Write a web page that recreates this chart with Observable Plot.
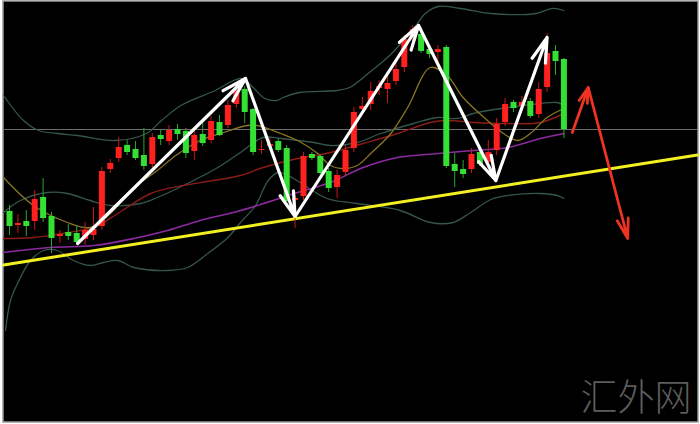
<!DOCTYPE html>
<html>
<head>
<meta charset="utf-8">
<script src="https://cdn.jsdelivr.net/npm/d3@7"></script>
<script src="https://cdn.jsdelivr.net/npm/@observablehq/plot@0.6"></script>
<style>
  html, body { margin: 0; padding: 0; background: #ffffff; }
  #chart svg { display: block; }
</style>
</head>
<body>
<div id="chart"></div>
<script>
// ---- Candles (price units) ----
const opens  = [212,198,202,202,226,207,187,191,190,184,188,197,254,265,278,274,268,259,288,282,294,292,272,289,283,301,298,319,334,314,273,277,282,275,223,227,269,267,252,236,251,275,314,319,335,334,342,356,386,389,374,371,376,259,254,254,271,261,273,301,321,317,322,309,336,372,364];
const closes = [199,202,199,226,207,187,191,189,183,195,196,254,262,278,273,267,259,288,286,295,291,272,290,282,304,290,320,335,313,273,276,281,275,224,227,269,267,252,237,250,275,313,319,334,339,342,356,386,396,374,371,376,259,254,251,271,261,273,301,321,317,323,309,336,372,364,296];
const highs  = [219,210,214,234,246,212,194,200,198,202,217,257,265,287,284,283,296,291,294,299,300,296,296,301,308,309,324,339,338,316,284,286,286,279,229,272,272,269,256,254,279,317,327,342,344,349,362,389,399,397,378,379,379,271,264,276,274,284,306,326,324,328,326,342,391,379,366];
const lows   = [189,191,188,194,202,171,181,184,181,179,184,194,251,262,269,264,254,256,279,279,284,266,264,278,281,288,296,316,301,269,270,274,272,221,196,224,264,249,232,226,248,272,311,314,329,321,339,352,382,371,366,359,256,237,246,251,258,258,269,298,312,314,306,306,332,349,286];

// ---- Indicator lines: [candle index, price] ----
const upperBand = [[-0.71,329],[1.67,304],[3.45,294],[5.71,291],[8.1,289],[12.6,284],[16.3,291],[18.1,304],[20.4,319],[24.5,334],[27.6,346],[29.0,337],[30.4,326],[31.8,324],[32.6,327],[34.5,332],[39.0,334],[40.5,337],[42.7,351],[45.5,371],[48.2,397],[49.5,411],[51.0,418],[53.7,416],[57.3,411],[62.7,411],[64.6,416],[66.0,414]];
const middleBand = [[-0.71,212],[1.3,224],[4.5,232],[6.9,231],[9.6,224],[12.0,219],[15.6,221],[17.6,227],[21.2,241],[24.8,257],[27.5,272],[30.2,287],[32.3,286],[36.2,282],[38.2,279],[41.4,282],[44.2,291],[48.1,301],[51.0,307],[53.3,306],[55.2,311],[59.3,317],[63.2,321],[65.2,322],[66.0,319]];
const lowerBand = [[-0.48,94],[0.12,124],[0.95,141],[2.5,164],[4.05,174],[5.7,174],[7.6,164],[9.6,159],[11.2,162],[12.9,164],[14.8,157],[18.8,154],[21.2,157],[23.6,171],[26.0,187],[27.5,202],[29.3,219],[30.8,244],[32.0,252],[33.8,246],[37.8,226],[41.4,221],[46.5,214],[50.1,202],[52.8,202],[54.9,212],[57.3,225],[59.3,229],[63.2,231],[65.2,229],[66.0,226]];
const maYellow = [[-0.71,247],[2.86,219],[6.9,202],[9.6,197],[12.0,211],[14.8,237],[17.6,254],[19.8,269],[22.7,284],[25.5,292],[28.3,299],[29.5,299],[32.3,291],[34.3,284],[36.7,271],[38.2,259],[39.8,256],[41.4,259],[43.0,271],[45.4,291],[47.4,317],[50.1,357],[52.1,349],[54.0,327],[56.9,304],[58.8,291],[60.5,284],[62.0,291],[64.0,307],[66.0,316]];
const maRed = [[-0.71,186],[2.86,187],[6.9,192],[10.0,197],[12.9,211],[16.8,231],[20.7,239],[24.3,244],[27.5,249],[30.2,257],[34.3,266],[38.2,272],[42.1,281],[46.2,291],[50.1,302],[52.1,304],[55.2,302],[59.3,301],[63.2,302],[66.0,311]];
const maPurple = [[-0.71,172],[4.9,177],[10.0,179],[14.8,186],[18.8,194],[22.7,204],[27.5,214],[34.3,232],[38.2,242],[42.1,257],[46.2,267],[51.0,271],[55.2,274],[59.3,277],[63.2,286],[66.0,291]];
const trendLine = [[-0.71,159.5],[81.9,269.5]];
const priceLine = [295];

// ---- Drawn arrows: [x1, y1, x2, y2] in index/price ----
const whiteArrows = [[8.1,181,28.1,346],[28.1,346,34.0,208],[34.0,208,48.7,399],[48.7,399,57.9,244],[57.9,244,64.0,387]];
const redArrows = [[67.0,292,68.9,337],[68.9,337,73.6,186]];
const watermark = ["汇外网"];

const candles = opens.map((o, i) => ({i, open: o, close: closes[i], high: highs[i], low: lows[i], up: closes[i] >= o}));
const UP = "#ff2020", DOWN = "#33e033";
const pts = a => a.map(([x, y]) => ({x, y}));
const arr = a => a.map(([x1, y1, x2, y2]) => ({x1, y1, x2, y2}));

const bandStyle = {x: "x", y: "y", stroke: "#35564a", strokeWidth: 1.3, curve: "catmull-rom"};

const chart = Plot.plot({
  width: 700,
  height: 424,
  margin: 0,
  x: {type: "linear", domain: [-1.0714, 82.262], range: [0, 700], axis: null},
  y: {type: "linear", domain: [0, 424], range: [424, 0], axis: null},
  style: {background: "transparent", overflow: "visible"},
  marks: [
    Plot.frame({fill: "#000000", stroke: "#9a9a9a", strokeWidth: 1.5, insetLeft: 2.5, insetRight: 2.5, insetTop: 0.5, insetBottom: 2.5}),
    Plot.ruleY(priceLine, {stroke: "#6e6e6e", strokeWidth: 1, insetLeft: 3, insetRight: 3}),
    Plot.line(pts(upperBand), bandStyle),
    Plot.line(pts(middleBand), bandStyle),
    Plot.line(pts(lowerBand), bandStyle),
    Plot.line(pts(maPurple), {x: "x", y: "y", stroke: "#8d2aa0", strokeWidth: 1.6, curve: "catmull-rom"}),
    Plot.line(pts(maRed), {x: "x", y: "y", stroke: "#8c1c16", strokeWidth: 1.4, curve: "catmull-rom"}),
    Plot.line(pts(maYellow), {x: "x", y: "y", stroke: "#8a7424", strokeWidth: 1.3, curve: "catmull-rom"}),
    Plot.line(pts(trendLine), {x: "x", y: "y", stroke: "#f2f020", strokeWidth: 3}),
    Plot.ruleX(candles, {x: "i", y1: "low", y2: "high", stroke: d => d.up ? "#c81818" : "#2aa82a", strokeWidth: 1}),
    Plot.ruleX(candles, {x: "i", y1: "open", y2: "close", stroke: d => d.up ? UP : DOWN, strokeWidth: 6, insetTop: -1, insetBottom: -1}),
    Plot.arrow(arr(whiteArrows), {x1: "x1", y1: "y1", x2: "x2", y2: "y2", stroke: "#ffffff", strokeWidth: 3.2, headLength: 12, headAngle: 32}),
    Plot.arrow(arr(redArrows), {x1: "x1", y1: "y1", x2: "x2", y2: "y2", stroke: "#ee3322", strokeWidth: 2.8, headLength: 11, headAngle: 32}),
    Plot.text(watermark, {frameAnchor: "bottom-right", textAnchor: "end", lineAnchor: "bottom", dx: -9, dy: -14, fontSize: 37, fill: "#5c5c5c", fontFamily: "Noto Sans CJK SC", fontWeight: 300})
  ]
});
document.getElementById("chart").appendChild(chart);
</script>
</body>
</html>
